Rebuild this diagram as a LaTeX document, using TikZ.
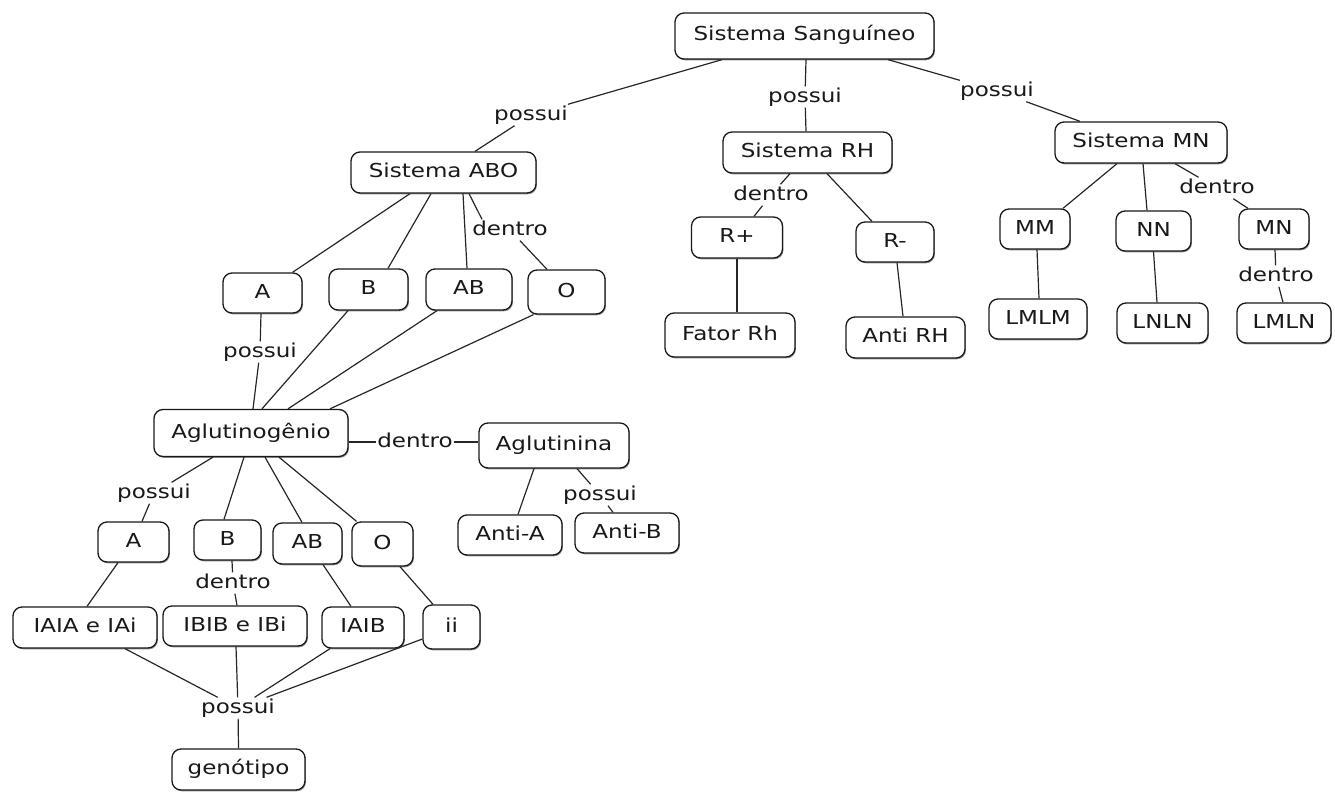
\documentclass[tikz,border=0pt]{standalone}
\usepackage{fontspec}
\setmainfont{DejaVu Sans}[FakeStretch=1.2]
\usetikzlibrary{shadows}
\begin{document}
\begin{tikzpicture}[x=1pt,y=-1pt,
  concept/.style={draw=black!90, fill=white, line width=1.3pt, rounded corners=9pt,
    drop shadow={shadow xshift=0.9pt, shadow yshift=-1.3pt, fill=black!75, opacity=0.6},
    minimum height=41pt, inner xsep=6pt, inner ysep=2pt,
    text height=14pt, text depth=4pt,
    font=\fontsize{19.2}{22}\selectfont, text=black!90},
  link/.style={inner sep=1.5pt, text height=14pt, text depth=4pt,
    font=\fontsize{19.2}{22}\selectfont, text=black!90},
  conn/.style={line width=1.2pt, draw=black!85}]
\useasboundingbox (0,0) rectangle (1335,792);

% ---------- concepts ----------
\node[concept, minimum width=259pt, minimum height=46pt] (ss) at (804.5,36) {Sistema Sanguíneo};
\node[concept, minimum width=185pt] (abo) at (443.5,172.5) {Sistema ABO};
\node[concept, minimum width=169pt] (rh) at (807.5,152.5) {Sistema RH};
\node[concept, minimum width=172pt] (mn) at (1141,142.5) {Sistema MN};

\node[concept, minimum width=91pt] (rpos) at (737,237.5) {R+};
\node[concept, minimum width=78pt, minimum height=40pt] (rneg) at (895,242) {R-};
\node[concept, minimum width=130pt, minimum height=44pt] (fator) at (730,335) {Fator Rh};
\node[concept, minimum width=119pt] (antirh) at (905.5,337.5) {Anti RH};

\node[concept, minimum width=70pt, minimum height=40pt] (mm) at (1035,229) {MM};
\node[concept, minimum width=75pt, minimum height=40pt] (nn) at (1153.5,231) {NN};
\node[concept, minimum width=70pt, minimum height=40pt] (mnpair) at (1274,229) {MN};
\node[concept, minimum width=98pt, minimum height=40pt] (lmlm) at (1038,319) {LMLM};
\node[concept, minimum width=91pt, minimum height=40pt] (lnln) at (1162.5,323) {LNLN};
\node[concept, minimum width=94pt, minimum height=40pt] (lmln) at (1284,323) {LMLN};

\node[concept, minimum width=79pt, minimum height=40pt] (a1) at (262.5,293) {A};
\node[concept, minimum width=79pt] (b1) at (368.5,289.5) {B};
\node[concept, minimum width=86pt] (ab1) at (469,289.5) {AB};
\node[concept, minimum width=77pt, minimum height=44pt] (o1) at (566.5,292) {O};

\node[concept, minimum width=194pt, minimum height=47pt] (agl) at (251,433) {Aglutinogênio};
\node[concept, minimum width=150pt, minimum height=45pt] (aglu) at (554,445.5) {Aglutinina};
\node[concept, minimum width=104pt, minimum height=40pt] (antia) at (510,535) {Anti-A};
\node[concept, minimum width=104pt, minimum height=40pt] (antib) at (627,533) {Anti-B};

\node[concept, minimum width=71pt, minimum height=40pt] (a2) at (133.5,542) {A};
\node[concept, minimum width=67pt, minimum height=40pt] (b2) at (227.5,540) {B};
\node[concept, minimum width=69pt] (ab2) at (307.5,543.5) {AB};
\node[concept, minimum width=61pt, minimum height=44pt] (o2) at (382.5,544) {O};

\node[concept, minimum width=144pt] (iaia) at (85,627.5) {IAIA e IAi};
\node[concept, minimum width=144pt, minimum height=40pt] (ibib) at (235,626) {IBIB e IBi};
\node[concept, minimum width=82pt] (iaib) at (363,627.5) {IAIB};
\node[concept, minimum width=57pt, minimum height=44pt] (ii) at (451.5,627) {ii};
\node[concept, minimum width=133pt] (geno) at (238.5,769.5) {genótipo};

% ---------- linking phrases ----------
\node[link] (p1) at (531,115) {possui};
\node[link] (p2) at (805,97) {possui};
\node[link] (p3) at (997,91) {possui};
\node[link] (d1) at (771,195) {dentro};
\node[link] (d2) at (1217,188) {dentro};
\node[link] (d3) at (1276,276) {dentro};
\node[link] (d4) at (510,230) {dentro};
\node[link] (p4) at (260,352) {possui};
\node[link] (d5) at (415,442) {dentro};
\node[link] (p5) at (154,493) {possui};
\node[link] (p6) at (600,495) {possui};
\node[link] (d6) at (233,583) {dentro};
\node[link] (p7) at (238,708) {possui};

% ---------- connectors: top level ----------
\draw[conn] ([xshift=-82.5pt]ss.south) -- (p1);
\draw[conn] (p1) -- ([xshift=31.5pt]abo.north);
\draw[conn] ([xshift=1.5pt]ss.south) -- (p2);
\draw[conn] (p2) -- ([xshift=-1.5pt]rh.north);
\draw[conn] ([xshift=83.5pt]ss.south) -- (p3);
\draw[conn] (p3) -- ([xshift=-61pt]mn.north);

% ---------- Rh system ----------
\draw[conn] ([xshift=-17.5pt]rh.south) -- (d1);
\draw[conn] (d1) -- ([xshift=17pt]rpos.north);
\draw[conn] ([xshift=19.5pt]rh.south) -- ([xshift=-23pt]rneg.north);
\draw[conn] (rpos.south) -- ([xshift=7pt]fator.north);
\draw[conn] ([xshift=2pt]rneg.south) -- ([xshift=-2.5pt]antirh.north);

% ---------- MN system ----------
\draw[conn] ([xshift=-24pt]mn.south) -- ([xshift=28pt]mm.north);
\draw[conn] ([xshift=2pt]mn.south) -- ([xshift=-6.5pt]nn.north);
\draw[conn] ([xshift=34pt]mn.south) -- (d2);
\draw[conn] (d2) -- ([xshift=-26pt]mnpair.north);
\draw[conn] ([xshift=2pt]mm.south) -- ([xshift=1pt]lmlm.north);
\draw[conn] (nn.south) -- ([xshift=-5.5pt]lnln.north);
\draw[conn] ([xshift=1pt]mnpair.south) -- (d3);
\draw[conn] (d3) -- ([xshift=-1pt]lmln.north);

% ---------- ABO system ----------
\draw[conn] ([xshift=-33.5pt]abo.south) -- ([xshift=30pt]a1.north);
\draw[conn] ([xshift=-12.5pt]abo.south) -- ([xshift=19.5pt]b1.north);
\draw[conn] ([xshift=19.5pt]abo.south) -- ([xshift=-2pt]ab1.north);
\draw[conn] ([xshift=25.5pt]abo.south) -- ([xshift=-28pt]d4.north);
\draw[conn] ([xshift=10pt]d4.south) -- ([xshift=-19.5pt]o1.north);

\draw[conn] ([xshift=-1.5pt]a1.south) -- (p4);
\draw[conn] (p4) -- ([xshift=2pt]agl.north);
\draw[conn] ([xshift=-20.5pt]b1.south) -- ([xshift=11pt]agl.north);
\draw[conn] ([xshift=-32pt]ab1.south) -- ([xshift=37pt]agl.north);
\draw[conn] ([xshift=-33pt]o1.south) -- ([xshift=79pt]agl.north);

% ---------- agglutinogen / agglutinin ----------
\draw[conn] (agl.east |- d5) -- (d5);
\draw[conn] (d5) -- (aglu.west |- d5);
\draw[conn] ([xshift=-20pt]aglu.south) -- ([xshift=8pt]antia.north);
\draw[conn] ([xshift=23pt]aglu.south) -- (p6);
\draw[conn] (p6) -- ([xshift=-14pt]antib.north);

\draw[conn] ([xshift=-38pt]agl.south) -- (p5);
\draw[conn] (p5) -- ([xshift=8.5pt]a2.north);
\draw[conn] ([xshift=-7pt]agl.south) -- ([xshift=-3.5pt]b2.north);
\draw[conn] ([xshift=14pt]agl.south) -- ([xshift=-5.5pt]ab2.north);
\draw[conn] ([xshift=28pt]agl.south) -- ([xshift=-26pt]o2.north);

% ---------- genotypes ----------
\draw[conn] ([xshift=-15.5pt]a2.south) -- ([xshift=2pt]iaia.north);
\draw[conn] ([xshift=4.5pt]b2.south) -- (d6);
\draw[conn] (d6) -- ([xshift=2pt]ibib.north);
\draw[conn] ([xshift=15.5pt]ab2.south) -- ([xshift=-12pt]iaib.north);
\draw[conn] ([xshift=17.5pt]o2.south) -- ([xshift=-18.5pt]ii.north);

\draw[conn] ([xshift=40pt]iaia.south) -- (p7);
\draw[conn] ([xshift=1pt]ibib.south) -- (p7);
\draw[conn] ([xshift=-33pt]iaib.south) -- (p7);
\draw[conn] ([yshift=-12pt]ii.west) -- (p7);
\draw[conn] (p7) -- (geno.north);
\end{tikzpicture}
\end{document}
